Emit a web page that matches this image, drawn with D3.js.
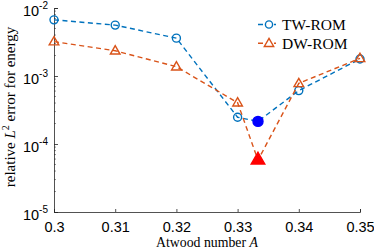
<!DOCTYPE html>
<html>
<head>
<meta charset="utf-8">
<script src="https://cdn.jsdelivr.net/npm/d3@7"></script>
<style>
  body { margin: 0; background: #fff; }
  svg { display: block; }
  .tick text { font-family: "Liberation Sans", Arial, sans-serif; }
</style>
</head>
<body>
<svg width="374" height="250"></svg>
<script>
const atwood = [0.30, 0.31, 0.32, 0.33, 1 / 3, 0.34, 0.35];
const twRom = [6.7e-3, 5.6e-3, 3.6e-3, 2.47e-4, 2.15e-4, 6.1e-4, 1.78e-3];
const dwRom = [3.2e-3, 2.35e-3, 1.37e-3, 4.05e-4, 5.8e-5, 7.8e-4, 1.82e-3];
const xTicks = [0.30, 0.31, 0.32, 0.33, 0.34, 0.35];
const xTickLabels = ["0.3", "0.31", "0.32", "0.33", "0.34", "0.35"];
const yTicks = [1e-5, 1e-4, 1e-3, 1e-2];
const yTickExps = ["-5", "-4", "-3", "-2"];
const specialIndex = 4; // A = 1/3

const margin = { top: 8, right: 14, bottom: 38, left: 54 },
      width = 374 - margin.left - margin.right,
      height = 250 - margin.top - margin.bottom;

const blue = "#0072BD", orange = "#D95319", axisColor = "#262626";
const serif = "'Liberation Serif', 'DejaVu Serif', serif";

const svg = d3.select("svg")
  .append("g")
  .attr("transform", `translate(${margin.left},${margin.top})`);

const x = d3.scaleLinear().domain([0.30, 0.35]).range([0, width]);
const y = d3.scaleLog().domain([1e-5, 1e-2]).range([height, 0]);

// x axis
const xAxis = svg.append("g")
  .attr("transform", `translate(0,${height})`)
  .call(d3.axisBottom(x).tickValues(xTicks).tickSize(-3).tickPadding(10)
    .tickFormat((d, i) => xTickLabels[i]));
xAxis.selectAll("text").attr("font-size", 14.5).attr("fill", "#000");

// y axis with minor ticks
const minor = [];
for (let e = -5; e < -2; e++) for (let k = 2; k <= 9; k++) minor.push(k * Math.pow(10, e));
const yAxis = svg.append("g");
yAxis.call(d3.axisLeft(y).tickValues(yTicks).tickSize(-4).tickFormat(""));
yAxis.selectAll(".tick").append("text")
  .attr("x", -6).attr("dy", "0.55em")
  .attr("text-anchor", "end")
  .attr("fill", "#000")
  .attr("font-size", 14.5)
  .each(function (d, i) {
    const t = d3.select(this);
    t.append("tspan").text("10");
    t.append("tspan").attr("font-size", 10).attr("dy", "-0.75em").text(yTickExps[i]);
  });
yAxis.selectAll(".minor").data(minor).enter().append("line")
  .attr("class", "minor")
  .attr("x1", 0).attr("x2", 2)
  .attr("y1", d => y(d)).attr("y2", d => y(d))
  .attr("stroke", axisColor).attr("stroke-width", 0.5);

svg.selectAll(".domain, .tick line").attr("stroke", axisColor).attr("stroke-width", 0.8);

// lines
const line = d3.line().x(d => x(d[0])).y(d => y(d[1]));
const series = [
  { name: "TW-ROM", values: twRom, color: blue, marker: "circle", fill: "#0000FF" },
  { name: "DW-ROM", values: dwRom, color: orange, marker: "triangle", fill: "#FF0000" }
];

const tri = d3.symbol().type(d3.symbolTriangle);

series.forEach(s => {
  const pts = atwood.map((a, i) => [a, s.values[i]]);
  svg.append("path")
    .datum(pts)
    .attr("fill", "none")
    .attr("stroke", s.color)
    .attr("stroke-width", 1.4)
    .attr("stroke-dasharray", "5,3.5")
    .attr("d", line);

  const mk = svg.append("g");
  pts.forEach((p, i) => {
    const special = i === specialIndex;
    if (s.marker === "circle") {
      mk.append("circle")
        .attr("cx", x(p[0])).attr("cy", y(p[1]))
        .attr("r", special ? 5 : 4)
        .attr("fill", special ? s.fill : "none")
        .attr("stroke", special ? s.fill : s.color)
        .attr("stroke-width", 1.4);
    } else {
      mk.append("path")
        .attr("d", tri.size(special ? 80 : 40)())
        .attr("transform", `translate(${x(p[0])},${y(p[1]) + (special ? 0 : 0.5)})`)
        .attr("fill", special ? s.fill : "none")
        .attr("stroke", special ? s.fill : s.color)
        .attr("stroke-width", 1.4);
    }
  });
});

// legend
const legend = svg.append("g").attr("transform", `translate(${258 - margin.left},${24.5 - margin.top})`);
series.forEach((s, i) => {
  const g = legend.append("g").attr("transform", `translate(0,${i * 18.8})`);
  g.append("line").attr("x1", 0).attr("x2", 18).attr("y1", 0).attr("y2", 0)
    .attr("stroke", s.color).attr("stroke-width", 1.4).attr("stroke-dasharray", "5,3");
  if (s.marker === "circle") {
    g.append("circle").attr("cx", 11).attr("cy", 0).attr("r", 3.6)
      .attr("fill", "#fff").attr("stroke", s.color).attr("stroke-width", 1.4);
  } else {
    g.append("path").attr("d", tri.size(38)()).attr("transform", "translate(11,0.5)")
      .attr("fill", "#fff").attr("stroke", s.color).attr("stroke-width", 1.4);
  }
  g.append("text").attr("x", 24).attr("dy", "0.35em")
    .attr("font-family", serif)
    .attr("font-size", 15.5).text(s.name);
});

// axis labels
svg.append("text")
  .attr("x", 207 - margin.left).attr("y", 247 - margin.top)
  .attr("text-anchor", "middle")
  .attr("font-family", serif)
  .attr("font-size", 13.8)
  .html('Atwood number <tspan font-style="italic">A</tspan>');

svg.append("text")
  .attr("transform", `translate(${15 - margin.left},${107 - margin.top}) rotate(-90)`)
  .attr("text-anchor", "middle")
  .attr("font-family", serif)
  .attr("font-size", 15)
  .html('relative <tspan font-style="italic">L</tspan><tspan font-size="10" dy="-0.6em">2</tspan><tspan dy="0.4em"> error for energy</tspan>');
</script>
</body>
</html>
